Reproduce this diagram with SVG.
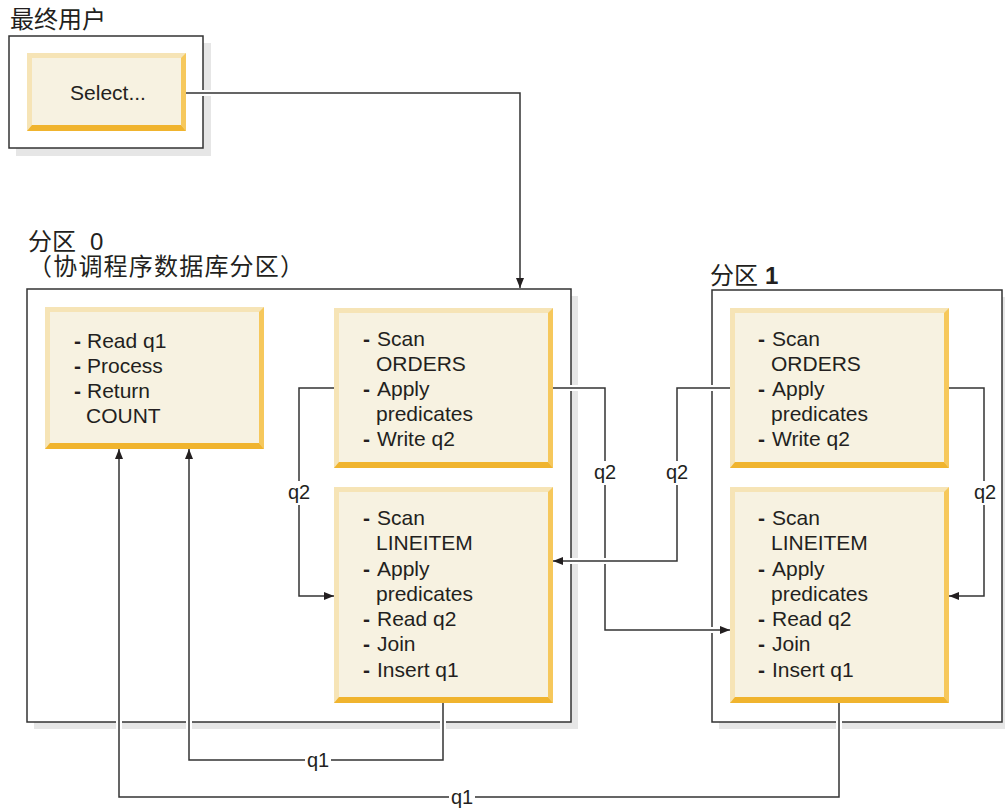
<svg xmlns="http://www.w3.org/2000/svg" width="1005" height="808" viewBox="0 0 1005 808">
<defs>
<style>
.frame{fill:#fff;stroke:#333;stroke-width:1.5}
.shadow{fill:#e6e6e6}
.lt{fill:#f6e4b6}
.rt{fill:#f6c85c}
.bt{fill:#f0b42e}
.in{fill:#f7f2e1}
.t{font-family:"Liberation Sans",Arial,sans-serif;font-size:21px;fill:#231f20}
.d{font-family:"Liberation Sans",Arial,sans-serif;font-size:21px;font-weight:bold;fill:#231f20}
.lbl{font-family:"Liberation Sans",Arial,sans-serif;font-size:20px;fill:#231f20;text-anchor:middle}
.cjk{font-family:"Liberation Sans","Noto Sans CJK SC",sans-serif;font-size:24px;fill:#231f20}
.halo{fill:none;stroke:#fff;stroke-width:6}
.line{fill:none;stroke:#333;stroke-width:1.5}
</style>
<marker id="arr" viewBox="0 0 10 10" refX="10" refY="5" markerWidth="10" markerHeight="10" markerUnits="userSpaceOnUse" orient="auto">
<path d="M0,1 L10,5 L0,9 Z" fill="#231f20"/>
</marker>
</defs>
<rect width="1005" height="808" fill="#fff"/>

<!-- containers -->
<g id="enduser">
<text class="cjk" x="10" y="28">最终用户</text>
<rect class="shadow" x="16" y="43" width="195" height="113"/>
<rect class="frame" x="9" y="36" width="194" height="112"/>
</g>
<g id="partition0">
<text class="cjk" x="28" y="250">分区<tspan x="90">0</tspan></text>
<text class="cjk" x="28" y="275" letter-spacing="1.2">（协调程序数据库分区）</text>
<rect class="shadow" x="34" y="296" width="544" height="433"/>
<rect class="frame" x="27" y="289" width="544" height="433"/>
</g>
<g id="partition1">
<text class="cjk" x="710" y="284">分区<tspan x="765" font-weight="bold">1</tspan></text>
<rect class="shadow" x="719" y="297" width="290" height="432"/>
<rect class="frame" x="712" y="290" width="290" height="432"/>
</g>

<!-- connectors -->
<g id="connectors">
<path class="halo" d="M186 93 H520 V280"/>
<path class="line" d="M186 93 H520 V288" marker-end="url(#arr)"/>
<path class="halo" d="M334 388 H299 V596 H326"/>
<path class="line" d="M334 388 H299 V596 H334" marker-end="url(#arr)"/>
<path class="halo" d="M553 388 H605 V630 H722"/>
<path class="line" d="M553 388 H605 V630 H730" marker-end="url(#arr)"/>
<path class="halo" d="M730 388 H677 V561 H561"/>
<path class="line" d="M730 388 H677 V561 H553" marker-end="url(#arr)"/>
<path class="halo" d="M949 388 H984 V596 H957"/>
<path class="line" d="M949 388 H984 V596 H949" marker-end="url(#arr)"/>
<path class="halo" d="M443 703 V760 H189 V456"/>
<path class="line" d="M443 703 V760 H189 V449" marker-end="url(#arr)"/>
<path class="halo" d="M839 703 V797 H119 V456"/>
<path class="line" d="M839 703 V797 H119 V449" marker-end="url(#arr)"/>
<g fill="#fff">
<rect x="287" y="481" width="24" height="24"/>
<rect x="593" y="461" width="24" height="24"/>
<rect x="665" y="461" width="24" height="24"/>
<rect x="973" y="481" width="24" height="24"/>
<rect x="305" y="749" width="26" height="24"/>
<rect x="449" y="786" width="26" height="24"/>
</g>
<text class="lbl" x="299" y="499">q2</text>
<text class="lbl" x="605" y="479">q2</text>
<text class="lbl" x="677" y="479">q2</text>
<text class="lbl" x="985" y="499">q2</text>
<text class="lbl" x="318" y="767">q1</text>
<text class="lbl" x="462" y="804">q1</text>
</g>

<!-- nodes -->
<g id="select">
<rect class="lt" x="27" y="53" width="159" height="78"/>
<polygon class="rt" points="186,53 186,131 181,125 181,58"/>
<polygon class="bt" points="27,131 186,131 181,125 32,125"/>
<rect class="in" x="32" y="58" width="149" height="67"/>
<text class="t" x="108" y="100" text-anchor="middle" font-size="20">Select...</text>
</g>

<g id="readq1">
<rect class="lt" x="45" y="307" width="219" height="142"/>
<polygon class="rt" points="264,307 264,449 259,443 259,312"/>
<polygon class="bt" points="45,449 264,449 259,443 50,443"/>
<rect class="in" x="50" y="312" width="209" height="131"/>
<text class="d" x="74" y="348">-</text><text class="t" x="87" y="348">Read q1</text>
<text class="d" x="74" y="373">-</text><text class="t" x="87" y="373">Process</text>
<text class="d" x="74" y="398">-</text><text class="t" x="87" y="398">Return</text>
<text class="t" x="86" y="423">COUNT</text>
</g>

<g id="p0orders">
<rect class="lt" x="334" y="308" width="219" height="160"/>
<polygon class="rt" points="553,308 553,468 548,462 548,313"/>
<polygon class="bt" points="334,468 553,468 548,462 339,462"/>
<rect class="in" x="339" y="313" width="209" height="149"/>
<text class="d" x="363" y="346">-</text><text class="t" x="377" y="346">Scan</text>
<text class="t" x="376" y="371">ORDERS</text>
<text class="d" x="363" y="396">-</text><text class="t" x="377" y="396">Apply</text>
<text class="t" x="376" y="421">predicates</text>
<text class="d" x="363" y="446">-</text><text class="t" x="377" y="446">Write q2</text>
</g>

<g id="p0lineitem">
<rect class="lt" x="334" y="487" width="219" height="216"/>
<polygon class="rt" points="553,487 553,703 548,697 548,492"/>
<polygon class="bt" points="334,703 553,703 548,697 339,697"/>
<rect class="in" x="339" y="492" width="209" height="205"/>
<text class="d" x="363" y="525">-</text><text class="t" x="377" y="525">Scan</text>
<text class="t" x="376" y="550">LINEITEM</text>
<text class="d" x="363" y="576">-</text><text class="t" x="377" y="576">Apply</text>
<text class="t" x="376" y="601">predicates</text>
<text class="d" x="363" y="626">-</text><text class="t" x="377" y="626">Read q2</text>
<text class="d" x="363" y="651">-</text><text class="t" x="377" y="651">Join</text>
<text class="d" x="363" y="677">-</text><text class="t" x="377" y="677">Insert q1</text>
</g>

<g id="p1orders">
<rect class="lt" x="730" y="308" width="219" height="160"/>
<polygon class="rt" points="949,308 949,468 944,462 944,313"/>
<polygon class="bt" points="730,468 949,468 944,462 735,462"/>
<rect class="in" x="735" y="313" width="209" height="149"/>
<text class="d" x="758" y="346">-</text><text class="t" x="772" y="346">Scan</text>
<text class="t" x="771" y="371">ORDERS</text>
<text class="d" x="758" y="396">-</text><text class="t" x="772" y="396">Apply</text>
<text class="t" x="771" y="421">predicates</text>
<text class="d" x="758" y="446">-</text><text class="t" x="772" y="446">Write q2</text>
</g>

<g id="p1lineitem">
<rect class="lt" x="730" y="487" width="219" height="216"/>
<polygon class="rt" points="949,487 949,703 944,697 944,492"/>
<polygon class="bt" points="730,703 949,703 944,697 735,697"/>
<rect class="in" x="735" y="492" width="209" height="205"/>
<text class="d" x="758" y="525">-</text><text class="t" x="772" y="525">Scan</text>
<text class="t" x="771" y="550">LINEITEM</text>
<text class="d" x="758" y="576">-</text><text class="t" x="772" y="576">Apply</text>
<text class="t" x="771" y="601">predicates</text>
<text class="d" x="758" y="626">-</text><text class="t" x="772" y="626">Read q2</text>
<text class="d" x="758" y="651">-</text><text class="t" x="772" y="651">Join</text>
<text class="d" x="758" y="677">-</text><text class="t" x="772" y="677">Insert q1</text>
</g>
</svg>
